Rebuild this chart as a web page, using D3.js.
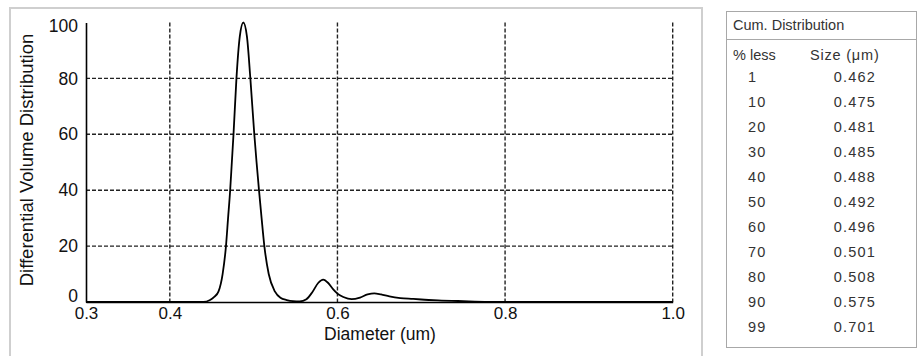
<!DOCTYPE html>
<html>
<head>
<meta charset="utf-8">
<script src="https://cdn.jsdelivr.net/npm/d3@7/dist/d3.min.js"></script>
<style>
body{margin:0;background:#fff;}
text{font-family:"Liberation Sans",Arial,sans-serif;}
</style>
</head>
<body>
<script>
// differential volume distribution
var diameter=[0.300,0.440,0.448,0.453,0.458,0.463,0.467,0.4695,0.472,0.474,0.476,0.4795,0.4835,0.4877,0.492,0.4961,0.5008,0.5035,0.5064,0.5095,0.5128,0.518,0.5255,0.532,0.5395,0.547,0.555,0.563,0.570,0.577,0.583,0.589,0.595,0.600,0.607,0.617,0.627,0.636,0.644,0.652,0.662,0.675,0.690,0.700,0.720,0.750,0.780,0.800,1.000];
var volume=[0,0,0.7,1.8,3.7,10,20,30,40,50,60,80,95,100,95,80,60,50,40,30,20,10,3.7,1.5,0.7,0.3,0.2,1.0,3.5,6.8,8.0,6.8,4.5,3.0,1.8,1.0,1.6,2.7,3.1,2.7,2.0,1.4,1.1,0.9,0.6,0.3,0.05,0,0];

var xTicks=[0.3,0.4,0.6,0.8,1.0];
var yTicks=[0,20,40,60,80,100];
var xGrid=[0.4,0.6,0.8,1.0];
var yGrid=[20,40,60,80];

// cumulative table
var pctLess=["1","10","20","30","40","50","60","70","80","90","99"];
var sizeUm=["0.462","0.475","0.481","0.485","0.488","0.492","0.496","0.501","0.508","0.575","0.701"];

var W=919,H=356;
var svg=d3.select("body").append("svg").attr("width",W).attr("height",H);
svg.append("rect").attr("width",W).attr("height",H).attr("fill","#fff");

// outer panel of the plot
svg.append("rect").attr("x",10).attr("y",8).attr("width",692).attr("height",360)
	.attr("fill","none").attr("stroke","#cfcfcf").attr("stroke-width",2);

var xscale=d3.scaleLinear().domain([0.3,1.0]).range([86,672.7]);
var yscale=d3.scaleLinear().domain([0,100]).range([302,22.5]);

var g=svg.append("g");

g.selectAll(".vgrid").data(xGrid).enter().append("line").attr("class","vgrid")
	.attr("x1",function(d){return xscale(d);}).attr("x2",function(d){return xscale(d);})
	.attr("y1",yscale(100)).attr("y2",yscale(0))
	.attr("stroke","#222").attr("stroke-width",1.4).attr("stroke-dasharray","4,2");
g.selectAll(".hgrid").data(yGrid).enter().append("line").attr("class","hgrid")
	.attr("x1",xscale(0.3)).attr("x2",xscale(1.0))
	.attr("y1",function(d){return yscale(d);}).attr("y2",function(d){return yscale(d);})
	.attr("stroke","#222").attr("stroke-width",1.4).attr("stroke-dasharray","4,2");

var xaxis=d3.axisBottom(xscale).tickValues(xTicks).tickFormat(d3.format(".1f")).tickSize(0).tickSizeOuter(0).tickPadding(5);
var yaxis=d3.axisLeft(yscale).tickValues(yTicks).tickSize(0).tickSizeOuter(0).tickPadding(8);

var gx=g.append("g").attr("transform","translate(0,"+yscale(0)+")").call(xaxis);
var gy=g.append("g").attr("transform","translate("+xscale(0.3)+",0)").call(yaxis);
[gx,gy].forEach(function(a){
	a.select(".domain").attr("stroke","#000").attr("stroke-width",1.6);
	a.selectAll("text").attr("font-size",17.5).attr("fill","#111").style("font-family","'Liberation Sans',Arial,sans-serif");
});
gx.selectAll("text").attr("font-size",17);
gy.selectAll(".tick text").attr("dy",function(d){return d==0?"-0.05em":(d==100?"0.5em":"0.32em");});

var line=d3.line().curve(d3.curveMonotoneX)
	.x(function(d,i){return xscale(diameter[i]);})
	.y(function(d){return yscale(d);});
g.append("path").datum(volume).attr("d",line)
	.attr("fill","none").attr("stroke","#000").attr("stroke-width",1.8);

g.append("text").attr("x",380).attr("y",339.5).attr("text-anchor","middle")
	.attr("font-size",17.5).attr("fill","#111").text("Diameter (um)");
g.append("text").attr("transform","translate(33,160) rotate(-90)").attr("text-anchor","middle")
	.attr("font-size",18.5).attr("fill","#111").text("Differential Volume Distribution");

// table
var t=svg.append("g").attr("fill","#333").attr("font-size",14.5);
t.append("rect").attr("x",726.5).attr("y",11.5).attr("width",190).attr("height",336)
	.attr("fill","none").attr("stroke","#a8a8a8");
t.append("line").attr("x1",726.5).attr("x2",916.5).attr("y1",39.5).attr("y2",39.5).attr("stroke","#a8a8a8");
t.append("text").attr("x",733).attr("y",30).text("Cum. Distribution");
t.append("text").attr("x",733).attr("y",60).text("% less");
t.append("text").attr("x",810).attr("y",60).attr("letter-spacing",0.8).text("Size (\u03bcm)");
t.selectAll(".pct").data(pctLess).enter().append("text").attr("class","pct")
	.attr("x",748).attr("y",function(d,i){return 81.7+25*i;}).attr("letter-spacing",1.2).text(function(d){return d;});
t.selectAll(".sz").data(sizeUm).enter().append("text").attr("class","sz")
	.attr("x",876).attr("y",function(d,i){return 81.7+25*i;}).attr("text-anchor","end").attr("letter-spacing",1.2).text(function(d){return d;});
</script>
</body>
</html>
